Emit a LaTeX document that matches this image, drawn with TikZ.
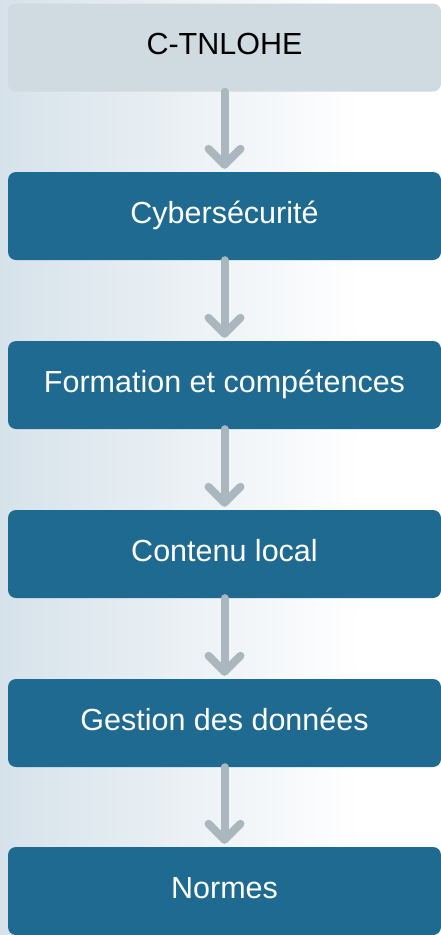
\documentclass[tikz,border=0pt]{standalone}
\usepackage{fontspec}
\setmainfont{Liberation Sans}
\usetikzlibrary{arrows.meta}
\definecolor{bgleft}{HTML}{D6E2EA}
\definecolor{topfill}{HTML}{CFDBE0}
\definecolor{boxfill}{HTML}{1F6A91}
\definecolor{arrowgray}{HTML}{ABB7BF}
\begin{document}
\begin{tikzpicture}[x=1pt,y=-1pt,
  box/.style={rectangle, rounded corners=8pt, minimum width=433pt, minimum height=88pt,
    inner sep=0pt, text height=22pt, text depth=8pt, font=\fontsize{30.5}{36}\selectfont},
  topbox/.style={box, fill=topfill, text=black},
  mainbox/.style={box, fill=boxfill, text=white},
  conn/.style={draw=arrowgray, line width=8pt, line cap=round,
    -{Straight Barb[length=16pt,width=32pt,round]}, shorten >=3pt}]
\useasboundingbox (0,0) rectangle (441,935);
\shade[left color=bgleft, right color=white] (0,0) rectangle (360,935);
\fill[white] (360,0) rectangle (441,935);
\node[topbox]  (n0) at (224.5,47.5) {C-TNLOHE};
\node[mainbox] (n1) at (224.5,216) {Cybersécurité};
\node[mainbox] (n2) at (224.5,385) {Formation et compétences};
\node[mainbox] (n3) at (224.5,554) {Contenu local};
\node[mainbox] (n4) at (224.5,723) {Gestion des données};
\node[mainbox] (n5) at (224.5,891) {Normes};
\foreach \a/\b in {n0/n1,n1/n2,n2/n3,n3/n4,n4/n5}
  \draw[conn] (\a.south) -- (\b.north);
\end{tikzpicture}
\end{document}
